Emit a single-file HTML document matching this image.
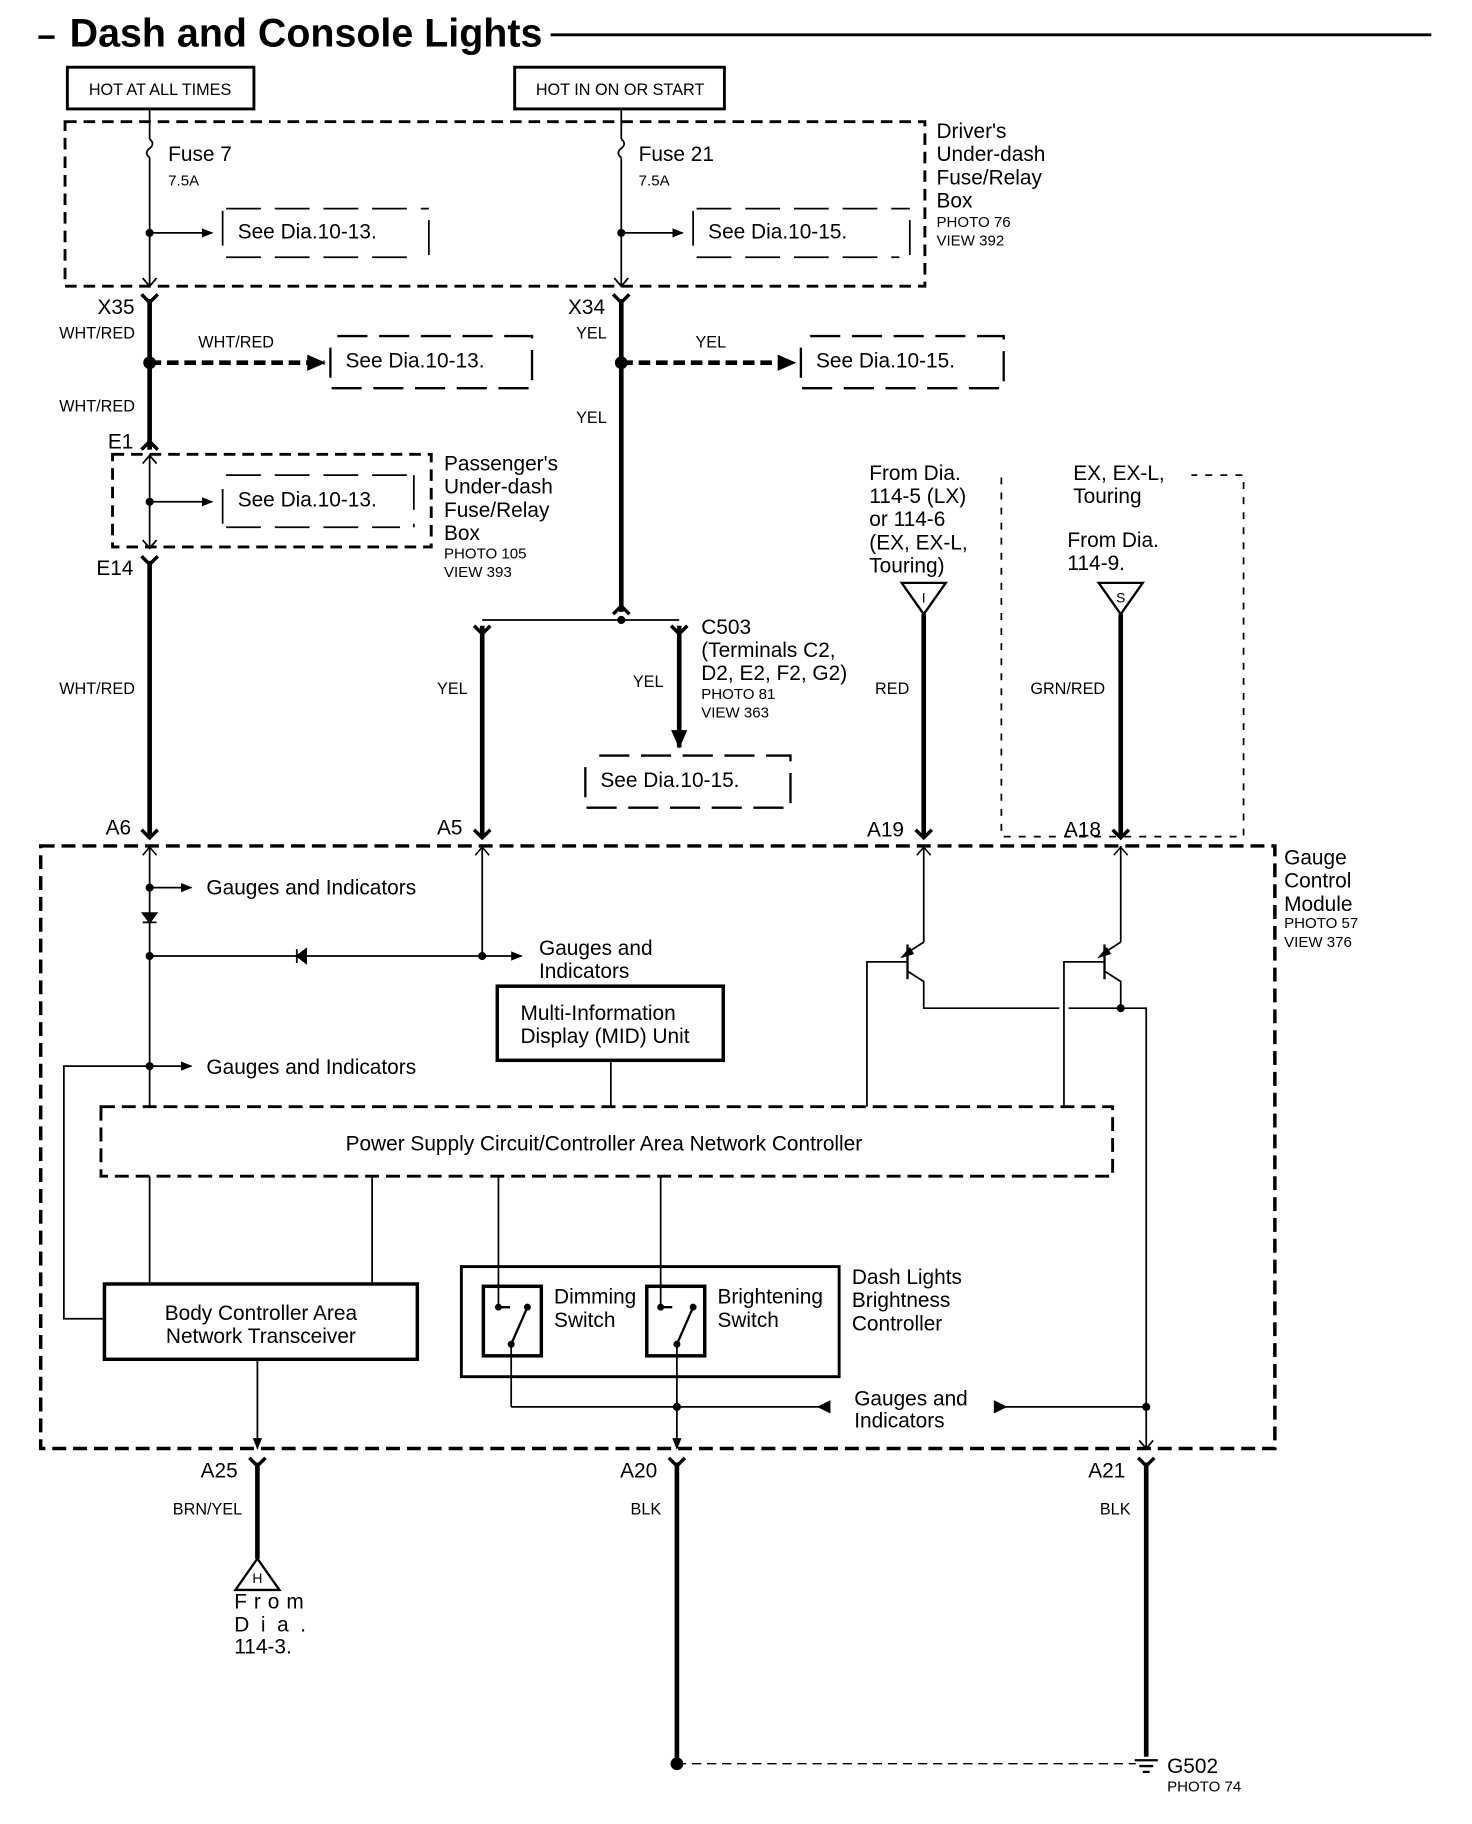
<!DOCTYPE html>
<html><head><meta charset="utf-8"><style>
html,body{margin:0;padding:0;background:#fff}
svg{display:block}
text{font-family:"Liberation Sans",sans-serif;fill:#000}
</style></head><body>
<svg width="1472" height="1824" viewBox="0 0 1270 1574" xmlns="http://www.w3.org/2000/svg">
<defs>
<marker id="ah" markerWidth="10" markerHeight="10" refX="9" refY="5" orient="auto" markerUnits="userSpaceOnUse"><path d="M0,1 L10,5 L0,9 Z" fill="#000"/></marker>
<marker id="ahb" markerWidth="16" markerHeight="14" refX="15" refY="7" orient="auto" markerUnits="userSpaceOnUse"><path d="M0,0 L16,7 L0,14 Z" fill="#000"/></marker>
</defs>
<g fill="none" stroke="#000">
<line x1="475" y1="30" x2="1235" y2="30" stroke-width="2.5"/>
<line x1="33" y1="32" x2="47" y2="32" stroke-width="3"/>
<rect x="58" y="58" width="161" height="36" stroke-width="2.5"/>
<rect x="444" y="58" width="181" height="36" stroke-width="2.5"/>
<rect x="56" y="105" width="742" height="142" stroke-width="2.5" stroke-dasharray="10,6"/>
<line x1="129" y1="94" x2="129" y2="120" stroke-width="1.5"/>
<path d="M129,120 q5,4 0,8 q-5,4 0,8" stroke-width="1.5"/>
<line x1="129" y1="136" x2="129" y2="247" stroke-width="1.5"/>
<line x1="536" y1="94" x2="536" y2="120" stroke-width="1.5"/>
<path d="M536,120 q5,4 0,8 q-5,4 0,8" stroke-width="1.5"/>
<line x1="536" y1="136" x2="536" y2="247" stroke-width="1.5"/>
<line x1="129" y1="201" x2="183" y2="201" stroke-width="1.5" marker-end="url(#ah)"/>
<line x1="536" y1="201" x2="589" y2="201" stroke-width="1.5" marker-end="url(#ah)"/>
<circle cx="129" cy="201" r="3" fill="#000"/><circle cx="536" cy="201" r="3" fill="#000"/>
<path d="M192,182 v40 M195,180 h175 M370,190 v32 M195,222 h165" stroke-width="1.5" stroke-dasharray="30,12"/>
<path d="M598,182 v40 M601,180 h184 M785,190 v32 M601,222 h175" stroke-width="1.5" stroke-dasharray="30,12"/>
<path d="M123,240 l6,7 l6,-7" stroke-width="1.5"/><path d="M530,240 l6,7 l6,-7" stroke-width="1.5"/>
<path d="M122,254 l7,7 l7,-7" stroke-width="3"/><path d="M529,254 l7,7 l7,-7" stroke-width="3"/>
<line x1="129" y1="258" x2="129" y2="388" stroke-width="4"/>
<line x1="536" y1="258" x2="536" y2="528" stroke-width="4"/>
<circle cx="129" cy="313" r="5" fill="#000"/><circle cx="536" cy="313" r="5" fill="#000"/>
<line x1="129" y1="313" x2="280" y2="313" stroke-width="4" stroke-dasharray="10,5" marker-end="url(#ahb)"/>
<line x1="536" y1="313" x2="686" y2="313" stroke-width="4" stroke-dasharray="10,5" marker-end="url(#ahb)"/>
<path d="M285,300 v35 h174 v-45 h-170" stroke-width="2" stroke-dasharray="26,10"/>
<path d="M691,300 v35 h175 v-45 h-170" stroke-width="2" stroke-dasharray="26,10"/>
<path d="M122,388 l7,-7 l7,7" stroke-width="3"/>
<rect x="97" y="392" width="275" height="80" stroke-width="2.5" stroke-dasharray="10,6"/>
<line x1="129" y1="392" x2="129" y2="472" stroke-width="1.5"/>
<line x1="129" y1="433" x2="183" y2="433" stroke-width="1.5" marker-end="url(#ah)"/>
<circle cx="129" cy="433" r="3" fill="#000"/>
<path d="M192,422 v33 M195,410 h162 M357,410 v45 M195,455 h150" stroke-width="1.5" stroke-dasharray="30,12"/>
<path d="M123,400 l6,-7 l6,7" stroke-width="1.5"/><path d="M123,466 l6,7 l6,-7" stroke-width="1.5"/>
<path d="M122,480 l7,7 l7,-7" stroke-width="3"/>
<line x1="129" y1="484" x2="129" y2="722" stroke-width="4"/>
<path d="M529,530 l7,-7 l7,7" stroke-width="3"/>
<line x1="416" y1="535" x2="586" y2="535" stroke-width="1.5"/>
<circle cx="536" cy="535" r="3" fill="#000"/>
<path d="M409,540 l7,7 l7,-7" stroke-width="3"/><path d="M579,540 l7,7 l7,-7" stroke-width="3"/>
<line x1="416" y1="540" x2="416" y2="722" stroke-width="4"/>
<line x1="586" y1="540" x2="586" y2="645" stroke-width="4" marker-end="url(#ahb)"/>
<path d="M505,662 v35 h177 v-45 h-170" stroke-width="2" stroke-dasharray="26,10"/>
<path d="M778,503 h38 l-19,27 Z" stroke-width="2"/>
<path d="M948,503 h38 l-19,27 Z" stroke-width="2"/>
<line x1="797" y1="530" x2="797" y2="722" stroke-width="4"/>
<line x1="967" y1="530" x2="967" y2="722" stroke-width="4"/>
<path d="M864,412 v310 h209 v-312 h-45" stroke-width="1.5" stroke-dasharray="6,7"/>
<path d="M122,716 l7,7 l7,-7 M409,716 l7,7 l7,-7 M790,716 l7,7 l7,-7 M960,716 l7,7 l7,-7" stroke-width="3"/>
<rect x="35" y="730" width="1065" height="520" stroke-width="3" stroke-dasharray="12,6"/>
<path d="M123,738 l6,-7 l6,7 M410,738 l6,-7 l6,7 M791,738 l6,-7 l6,7 M961,738 l6,-7 l6,7" stroke-width="1.3"/>
<line x1="129" y1="730" x2="129" y2="955" stroke-width="1.5"/>
<line x1="129" y1="766" x2="165" y2="766" stroke-width="1.5" marker-end="url(#ah)"/>
<circle cx="129" cy="766" r="3" fill="#000"/>
<path d="M123,788 h12 l-6,8 Z M123,796 h12" fill="#000" stroke-width="1.5"/>
<line x1="129" y1="825" x2="450" y2="825" stroke-width="1.5" marker-end="url(#ah)"/>
<path d="M256,825 l8,-6 v12 Z M256,819 v12" fill="#000" stroke-width="1.5"/>
<circle cx="129" cy="825" r="3" fill="#000"/><circle cx="416" cy="825" r="3" fill="#000"/>
<line x1="416" y1="730" x2="416" y2="825" stroke-width="1.5"/>
<rect x="429" y="851" width="195" height="64" stroke-width="3"/>
<line x1="527" y1="915" x2="527" y2="955" stroke-width="1.5"/>
<line x1="129" y1="920" x2="165" y2="920" stroke-width="1.5" marker-end="url(#ah)"/>
<circle cx="129" cy="920" r="3" fill="#000"/>
<path d="M129,920 H55 V1138 H90" stroke-width="1.5"/>
<rect x="87" y="955" width="873" height="60" stroke-width="2.5" stroke-dasharray="12,6"/>
<line x1="129" y1="1015" x2="129" y2="1108" stroke-width="1.5"/>
<line x1="321" y1="1015" x2="321" y2="1108" stroke-width="1.5"/>
<rect x="90" y="1108" width="270" height="65" stroke-width="3"/>
<line x1="222" y1="1173" x2="222" y2="1250" stroke-width="1.5" marker-end="url(#ah)"/>
<line x1="797" y1="730" x2="797" y2="813" stroke-width="1.5"/>
<path d="M797,813 L783,822" stroke-width="1.5"/>
<path d="M778,826 l7,-8 l3,5 Z" fill="#000" stroke-width="1"/>
<line x1="783" y1="815" x2="783" y2="845" stroke-width="2"/>
<path d="M783,838 L797,847 V870 H914 M922,870 H989 V1250" stroke-width="1.5"/>
<path d="M783,830 H748 V955" stroke-width="1.5"/>
<line x1="967" y1="730" x2="967" y2="813" stroke-width="1.5"/>
<path d="M967,813 L953,822" stroke-width="1.5"/>
<path d="M948,826 l7,-8 l3,5 Z" fill="#000" stroke-width="1"/>
<line x1="953" y1="815" x2="953" y2="845" stroke-width="2"/>
<path d="M953,838 L967,847 V870" stroke-width="1.5"/>
<path d="M953,830 H918 V955" stroke-width="1.5"/>
<circle cx="967" cy="870" r="3" fill="#000"/>
<line x1="430" y1="1015" x2="430" y2="1128" stroke-width="1.5"/>
<line x1="570" y1="1015" x2="570" y2="1128" stroke-width="1.5"/>
<rect x="398" y="1093" width="326" height="95" stroke-width="2.5"/>
<rect x="417" y="1110" width="50" height="60" stroke-width="3"/>
<rect x="558" y="1110" width="50" height="60" stroke-width="3"/>
<path d="M430,1128 l10,0 M441,1160 l14,-32" stroke-width="2"/>
<path d="M570,1128 l10,0 M584,1160 l14,-32" stroke-width="2"/>
<circle cx="430" cy="1128" r="2.5" fill="#000"/><circle cx="455" cy="1128" r="2.5" fill="#000"/><circle cx="441" cy="1160" r="2.5" fill="#000"/>
<circle cx="570" cy="1128" r="2.5" fill="#000"/><circle cx="598" cy="1128" r="2.5" fill="#000"/><circle cx="584" cy="1160" r="2.5" fill="#000"/>
<line x1="441" y1="1160" x2="441" y2="1214" stroke-width="1.5"/>
<line x1="584" y1="1160" x2="584" y2="1250" stroke-width="1.5" marker-end="url(#ah)"/>
<line x1="441" y1="1214" x2="716" y2="1214" stroke-width="1.5"/>
<path d="M716,1209 l-10,5 l10,5 Z" fill="#000"/>
<line x1="989" y1="1214" x2="858" y2="1214" stroke-width="1.5"/>
<path d="M858,1209 l10,5 l-10,5 Z" fill="#000"/>
<circle cx="584" cy="1214" r="3" fill="#000"/><circle cx="989" cy="1214" r="3" fill="#000"/>
<path d="M983,1243 l6,7 l6,-7" stroke-width="1.5"/>
<path d="M215,1258 l7,7 l7,-7 M577,1258 l7,7 l7,-7 M982,1258 l7,7 l7,-7" stroke-width="3"/>
<line x1="222" y1="1262" x2="222" y2="1345" stroke-width="4"/>
<path d="M203,1372 h38 l-19,-27 Z" stroke-width="2"/>
<line x1="584" y1="1262" x2="584" y2="1522" stroke-width="4"/>
<line x1="989" y1="1262" x2="989" y2="1516" stroke-width="4"/>
<circle cx="584" cy="1522" r="5" fill="#000"/>
<line x1="584" y1="1522" x2="980" y2="1522" stroke-width="1.2" stroke-dasharray="8,5"/>
<path d="M979,1519 h20 M983,1524 h12 M986,1529 h6" stroke-width="2"/>
</g>
<text x="60" y="40" font-size="34" font-weight="bold">Dash and Console Lights</text>
<text x="138" y="82" font-size="14" text-anchor="middle">HOT AT ALL TIMES</text>
<text x="535" y="82" font-size="14" text-anchor="middle">HOT IN ON OR START</text>
<g font-size="18">
<text x="145" y="139">Fuse 7</text><text x="551" y="139">Fuse 21</text>
<text x="205" y="206">See Dia.10-13.</text><text x="611" y="206">See Dia.10-15.</text>
<text x="298" y="317">See Dia.10-13.</text><text x="704" y="317">See Dia.10-15.</text>
<text x="205" y="437">See Dia.10-13.</text><text x="518" y="679">See Dia.10-15.</text>
<text x="808" y="119">Driver's</text><text x="808" y="139">Under-dash</text><text x="808" y="159">Fuse/Relay</text><text x="808" y="179">Box</text>
<text x="383" y="406">Passenger's</text><text x="383" y="426">Under-dash</text><text x="383" y="446">Fuse/Relay</text><text x="383" y="466">Box</text>
<text x="84" y="271">X35</text><text x="490" y="271">X34</text>
<text x="93" y="387">E1</text><text x="83" y="496">E14</text>
<text x="605" y="547">C503</text><text x="605" y="567">(Terminals C2,</text><text x="605" y="587">D2, E2, F2, G2)</text>
<text x="750" y="414">From Dia.</text><text x="750" y="434">114-5 (LX)</text><text x="750" y="454">or 114-6</text><text x="750" y="474">(EX, EX-L,</text><text x="750" y="494">Touring)</text>
<text x="926" y="414">EX, EX-L,</text><text x="926" y="434">Touring</text>
<text x="921" y="472">From Dia.</text><text x="921" y="492">114-9.</text>
<text x="91" y="720">A6</text><text x="377" y="720">A5</text><text x="748" y="722">A19</text><text x="918" y="722">A18</text>
<text x="1108" y="746">Gauge</text><text x="1108" y="766">Control</text><text x="1108" y="786">Module</text>
<text x="178" y="772">Gauges and Indicators</text>
<text x="465" y="824">Gauges and</text><text x="465" y="844">Indicators</text>
<text x="449" y="880">Multi-Information</text><text x="449" y="900">Display (MID) Unit</text>
<text x="178" y="927">Gauges and Indicators</text>
<text x="521" y="993" text-anchor="middle">Power Supply Circuit/Controller Area Network Controller</text>
<text x="225" y="1139" text-anchor="middle">Body Controller Area</text><text x="225" y="1159" text-anchor="middle">Network Transceiver</text>
<text x="478" y="1125">Dimming</text><text x="478" y="1145">Switch</text>
<text x="619" y="1125">Brightening</text><text x="619" y="1145">Switch</text>
<text x="735" y="1108">Dash Lights</text><text x="735" y="1128">Brightness</text><text x="735" y="1148">Controller</text>
<text x="737" y="1213">Gauges and</text><text x="737" y="1232">Indicators</text>
<text x="173" y="1275">A25</text><text x="535" y="1275">A20</text><text x="939" y="1275">A21</text>
<text x="202" y="1388" letter-spacing="6">From</text><text x="202" y="1408" letter-spacing="10">Dia.</text><text x="202" y="1427">114-3.</text>
<text x="1007" y="1530">G502</text>
</g>
<g font-size="13">
<text x="145" y="160">7.5A</text><text x="551" y="160">7.5A</text>
<text x="808" y="196">PHOTO 76</text><text x="808" y="212">VIEW 392</text>
<text x="383" y="482">PHOTO 105</text><text x="383" y="498">VIEW 393</text>
<text x="605" y="603">PHOTO 81</text><text x="605" y="619">VIEW 363</text>
<text x="1108" y="801">PHOTO 57</text><text x="1108" y="817">VIEW 376</text>
<text x="1007" y="1546">PHOTO 74</text>
</g>
<g font-size="14">
<text x="51" y="292">WHT/RED</text><text x="171" y="300">WHT/RED</text><text x="51" y="355">WHT/RED</text><text x="51" y="599">WHT/RED</text>
<text x="497" y="292">YEL</text><text x="600" y="300">YEL</text><text x="497" y="365">YEL</text>
<text x="377" y="599">YEL</text><text x="546" y="593">YEL</text>
<text x="755" y="599">RED</text><text x="889" y="599">GRN/RED</text>
<text x="149" y="1307">BRN/YEL</text><text x="544" y="1307">BLK</text><text x="949" y="1307">BLK</text>
</g>
<g font-size="12" text-anchor="middle">
<text x="797" y="520">I</text><text x="967" y="520">S</text><text x="222" y="1366">H</text>
</g>
</svg>
</body></html>
